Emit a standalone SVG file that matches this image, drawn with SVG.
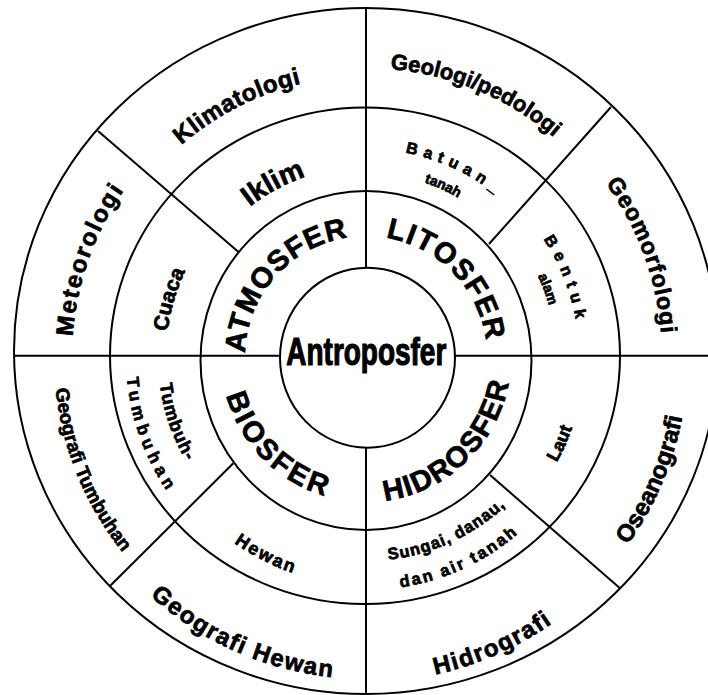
<svg xmlns="http://www.w3.org/2000/svg" xmlns:xlink="http://www.w3.org/1999/xlink" width="708" height="695" viewBox="0 0 708 695">
  <style>
    .ring { fill: none; stroke: #000; stroke-width: 2; }
    .div { stroke: #000; stroke-width: 2; fill: none; }
    .lbl { font-family: "Liberation Sans", Arial, sans-serif; font-weight: bold; fill: #000; stroke: #000; stroke-width: 0.7; stroke-linejoin: round; }
    .core { stroke-width: 1.2; }
  </style>
  <defs>
    <!-- clockwise arcs over the top (left -> right), centre 366,357 -->
    <path id="cw121" d="M245,357 A121,121 0 0 1 487,357"/>
    <path id="cw184" d="M182,357 A184,184 0 0 1 550,357"/>
    <path id="cw190" d="M176,357 A190,190 0 0 1 556,357"/>
    <path id="cw200" d="M166,357 A200,200 0 0 1 566,357"/>
    <path id="cw208" d="M158,357 A208,208 0 0 1 574,357"/>
    <path id="cw213" d="M153,357 A213,213 0 0 1 579,357"/>
    <path id="cw281" d="M85,357 A281,281 0 0 1 647,357"/>
    <path id="cw289" d="M77,357 A289,289 0 0 1 655,357"/>
    <path id="cw294" d="M72,357 A294,294 0 0 1 660,357"/>
    <path id="cw296" d="M70,357 A296,296 0 0 1 662,357"/>
    <!-- counter-clockwise arcs under the bottom (left -> right) -->
    <path id="cc145" d="M221,357 A145,145 0 0 0 511,357"/>
    <path id="cc204" d="M162,357 A204,204 0 0 0 570,357"/>
    <path id="cc208" d="M158,357 A208,208 0 0 0 574,357"/>
    <path id="cc218" d="M148,357 A218,218 0 0 0 584,357"/>
    <path id="cc228" d="M138,357 A228,228 0 0 0 594,357"/>
    <path id="cc233" d="M133,357 A233,233 0 0 0 599,357"/>
    <path id="cc240" d="M126,357 A240,240 0 0 0 606,357"/>
    <path id="cc312" d="M54,357 A312,312 0 0 0 678,357"/>
    <path id="cc322" d="M44,357 A322,322 0 0 0 688,357"/>
    <path id="cc325" d="M41,357 A325,325 0 0 0 691,357"/>
  </defs>

  <rect width="708" height="695" fill="#fff"/>

  <!-- concentric rings -->
  <g id="rings">
    <ellipse id="ring-outer" class="ring" cx="366" cy="351" rx="352" ry="343"/>
    <ellipse id="ring-middle" class="ring" cx="365" cy="355.7" rx="255" ry="248.3"/>
    <ellipse id="ring-inner" class="ring" cx="366" cy="360.5" rx="165.5" ry="169.5"/>
    <ellipse id="ring-core" class="ring" cx="367.5" cy="357.7" rx="87.5" ry="90"/>
  </g>

  <!-- sector dividers -->
  <g id="connectors">
    <line class="div" x1="366" y1="8" x2="366" y2="267.7"/>
    <line class="div" x1="366" y1="447.7" x2="366" y2="695"/>
    <line class="div" x1="14" y1="355.7" x2="280" y2="355.7"/>
    <line class="div" x1="455" y1="355.7" x2="708" y2="355.7"/>
    <line class="div" x1="98" y1="131" x2="238.5" y2="252"/>
    <line class="div" x1="611" y1="107" x2="489" y2="244"/>
    <line class="div" x1="110" y1="586" x2="233.3" y2="463.3"/>
    <line class="div" x1="490" y1="475" x2="620" y2="588.3"/>
  </g>

  <g id="antroposfer">
    <text class="lbl core" x="366.3" y="365" font-size="38" text-anchor="middle" textLength="160" lengthAdjust="spacingAndGlyphs">Antroposfer</text>
  </g>

  <g id="atmosfer">
    <text class="lbl" font-size="29" letter-spacing="1" text-anchor="middle"><textPath xlink:href="#cw121" startOffset="23.2%">ATMOSFER</textPath></text>
  </g>
  <g id="litosfer">
    <text class="lbl" font-size="29" letter-spacing="1.5" text-anchor="middle"><textPath xlink:href="#cw121" startOffset="75.6%">LITOSFER</textPath></text>
  </g>
  <g id="hidrosfer">
    <text class="lbl" font-size="29" letter-spacing="1.5" text-anchor="middle"><textPath xlink:href="#cc145" startOffset="74.4%">HIDROSFER</textPath></text>
  </g>
  <g id="biosfer">
    <text class="lbl" font-size="29" letter-spacing="3" text-anchor="middle"><textPath xlink:href="#cc145" startOffset="25%">BIOSFER</textPath></text>
  </g>

  <g id="iklim">
    <text class="lbl" font-size="28" text-anchor="middle"><textPath xlink:href="#cw190" startOffset="34.4%">Iklim</textPath></text>
  </g>
  <g id="cuaca">
    <text class="lbl" font-size="21" text-anchor="middle"><textPath xlink:href="#cw200" startOffset="9.1%">Cuaca</textPath></text>
  </g>
  <g id="batuan">
    <text class="lbl" font-size="16" letter-spacing="6" text-anchor="middle"><textPath xlink:href="#cw208" startOffset="64.1%">Batuan_</textPath></text>
    <text class="lbl" font-size="14" text-anchor="middle"><textPath xlink:href="#cw184" startOffset="63.5%">tanah</textPath></text>
  </g>
  <g id="bentuk">
    <text class="lbl" font-size="16" letter-spacing="6.5" text-anchor="middle"><textPath xlink:href="#cw213" startOffset="88.3%">Bentuk</textPath></text>
    <text class="lbl" font-size="14" text-anchor="middle"><textPath xlink:href="#cw190" startOffset="88.6%">alam</textPath></text>
  </g>
  <g id="laut">
    <text class="lbl" font-size="18" text-anchor="middle"><textPath xlink:href="#cc218" startOffset="86.7%">Laut</textPath></text>
  </g>
  <g id="sungai">
    <text class="lbl" font-size="16.5" letter-spacing="1" text-anchor="middle"><textPath xlink:href="#cc204" startOffset="63.8%">Sungai, danau,</textPath></text>
    <text class="lbl" font-size="16.5" letter-spacing="2.3" text-anchor="middle"><textPath xlink:href="#cc233" startOffset="63.8%">dan air tanah</textPath></text>
  </g>
  <g id="hewan">
    <text class="lbl" font-size="18" letter-spacing="2" text-anchor="middle"><textPath xlink:href="#cc228" startOffset="35.1%">Hewan</textPath></text>
  </g>
  <g id="tumbuhan">
    <text class="lbl" font-size="18" letter-spacing="1" text-anchor="middle"><textPath xlink:href="#cc208" startOffset="10.5%">Tumbuh-</textPath></text>
    <text class="lbl" font-size="17" letter-spacing="5" text-anchor="middle"><textPath xlink:href="#cc240" startOffset="11.1%">Tumbuhan</textPath></text>
  </g>

  <g id="klimatologi">
    <text class="lbl" font-size="24" letter-spacing="0.5" text-anchor="middle"><textPath xlink:href="#cw281" startOffset="34.9%">Klimatologi</textPath></text>
  </g>
  <g id="geologi">
    <text class="lbl" font-size="22" text-anchor="middle"><textPath xlink:href="#cw289" startOffset="62.6%">Geologi/pedologi</textPath></text>
  </g>
  <g id="geomorfologi">
    <text class="lbl" font-size="23" letter-spacing="1" text-anchor="middle"><textPath xlink:href="#cw296" startOffset="88.8%">Geomorfologi</textPath></text>
  </g>
  <g id="meteorologi">
    <text class="lbl" font-size="24" letter-spacing="2" text-anchor="middle"><textPath xlink:href="#cw294" startOffset="10.8%">Meteorologi</textPath></text>
  </g>
  <g id="oseanografi">
    <text class="lbl" font-size="24" text-anchor="middle"><textPath xlink:href="#cc322" startOffset="87.1%">Oseanografi</textPath></text>
  </g>
  <g id="hidrografi">
    <text class="lbl" font-size="24" letter-spacing="1.5" text-anchor="middle"><textPath xlink:href="#cc325" startOffset="63.2%">Hidrografi</textPath></text>
  </g>
  <g id="geografi-hewan">
    <text class="lbl" font-size="24" letter-spacing="1.5" text-anchor="middle"><textPath xlink:href="#cc322" startOffset="36.7%">Geografi Hewan</textPath></text>
  </g>
  <g id="geografi-tumbuhan">
    <text class="lbl" font-size="19" text-anchor="middle"><textPath xlink:href="#cc312" startOffset="12.4%">Geografi Tumbuhan</textPath></text>
  </g>
</svg>
